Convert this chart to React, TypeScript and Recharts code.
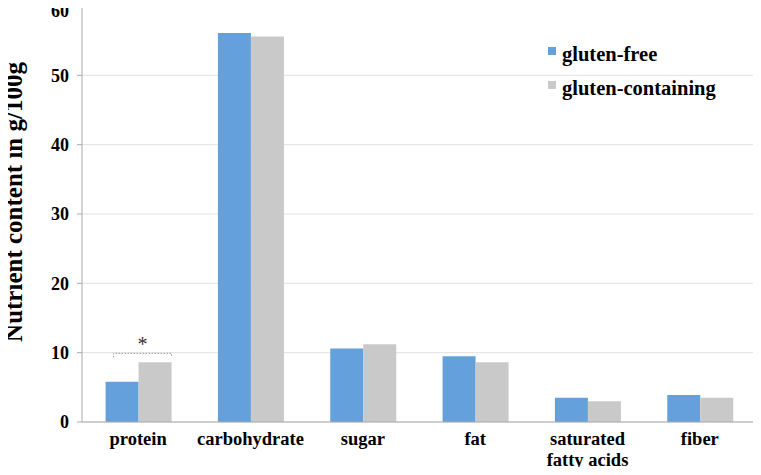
import React from "react";
import {
  Bar,
  BarChart,
  CartesianGrid,
  LabelList,
  XAxis,
  YAxis,
} from "recharts";

const categories = ["protein", "carbohydrate", "sugar", "fat", "saturated fatty acids", "fiber"];
const glutenFree = [5.8, 56.1, 10.6, 9.5, 3.5, 3.9];
const glutenContaining = [8.6, 55.6, 11.2, 8.6, 3.0, 3.5];
const yTicks = [0, 10, 20, 30, 40, 50, 60];

const data = categories.map((name, i) => ({
  name,
  gf: glutenFree[i],
  gc: glutenContaining[i],
}));

const FONT = "'Liberation Serif', 'Times New Roman', serif";
const BLUE = "#64a0dc";
const GRAY = "#c9c9c9";

function CategoryTick(props: any) {
  const { x, y, payload } = props;
  const lines =
    payload.value === "saturated fatty acids" ? ["saturated", "fatty acids"] : [payload.value];
  return (
    <text x={x} y={y + 15} textAnchor="middle" fontFamily={FONT} fontWeight="bold" fontSize={18.5} fill="#000">
      {lines.map((l, i) => (
        <tspan key={i} x={x} dy={i === 0 ? 0 : 21}>
          {l}
        </tspan>
      ))}
    </text>
  );
}

function SigBracket(props: any) {
  const { x, y, width, index } = props;
  if (index !== 0) return null;
  const top = y - 9;
  const x1 = x - 25;
  const x2 = x + width;
  return (
    <g>
      <path
        d={`M${x1},${top + 4} L${x1},${top} L${x2},${top} L${x2},${top + 4}`}
        stroke="#999"
        strokeDasharray="1.5 1.5"
        fill="none"
      />
      <text x={(x1 + x2) / 2} y={top - 2} textAnchor="middle" fontFamily={FONT} fontSize={20} fill="#333">
        *
      </text>
    </g>
  );
}

const legendItems = [
  { label: "gluten-free", color: BLUE },
  { label: "gluten-containing", color: GRAY },
];

export default function App() {
  return (
    <div style={{ margin: -8, background: "#fff", width: 761, height: 475, position: "relative" }}>
      <BarChart
        width={761}
        height={475}
        data={data}
        margin={{ top: 6, right: 5, bottom: 0, left: 0 }}
        barCategoryGap="21%"
        barGap={0}
      >
        <CartesianGrid vertical={false} stroke="#e2e2e2" />
        <XAxis
          dataKey="name"
          tick={<CategoryTick />}
          tickLine={false}
          axisLine={{ stroke: "#aaa" }}
          interval={0}
          height={53}
        />
        <YAxis
          domain={[0, 60]}
          ticks={yTicks}
          width={82}
          axisLine={{ stroke: "#aaa" }}
          tickLine={{ stroke: "#aaa" }}
          tickSize={5}
          tickMargin={8}
          tick={{ fontFamily: FONT, fontWeight: "bold", fontSize: 18, fill: "#000" }}
          label={{
            value: "Nutrient content in g/100g",
            angle: -90,
            position: "insideLeft",
            dx: 8,
            dy: -12,
            style: { fontFamily: FONT, fontWeight: "bold", fontSize: 25, fill: "#000", textAnchor: "middle" },
          }}
        />
        <Bar dataKey="gf" name="gluten-free" fill={BLUE} isAnimationActive={false} />
        <Bar dataKey="gc" name="gluten-containing" fill={GRAY} isAnimationActive={false}>
          <LabelList dataKey="gc" content={<SigBracket />} />
        </Bar>
      </BarChart>
      <div
        style={{
          position: "absolute",
          left: 548,
          top: 42,
          fontFamily: FONT,
          fontWeight: "bold",
          fontSize: 20.5,
          lineHeight: "24px",
        }}
      >
        {legendItems.map((it) => (
          <div key={it.label} style={{ display: "flex", alignItems: "flex-start", height: 34 }}>
            <span style={{ width: 8, height: 8, background: it.color, marginTop: 5, marginRight: 6 }} />
            <span>{it.label}</span>
          </div>
        ))}
      </div>
    </div>
  );
}
